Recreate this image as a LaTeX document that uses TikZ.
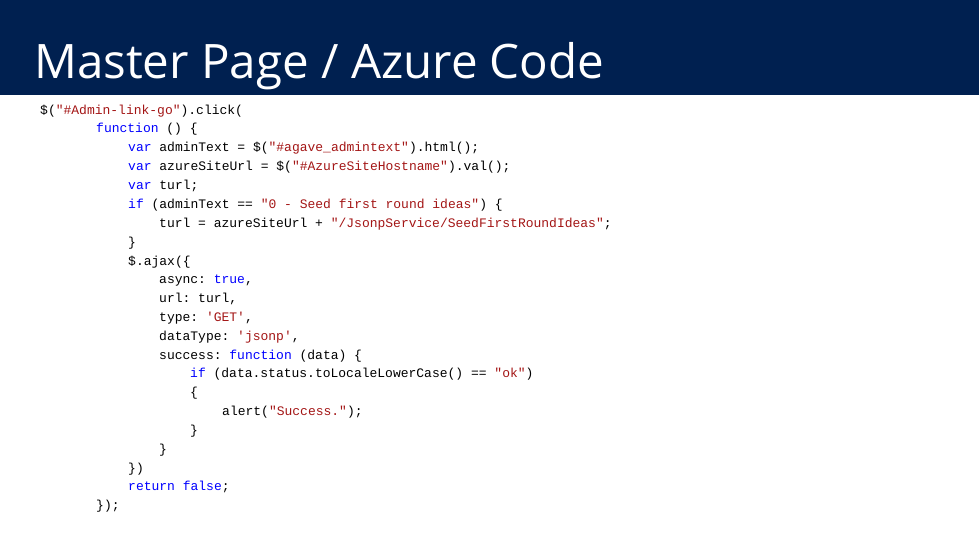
\documentclass[tikz,border=0pt]{standalone}
\usepackage{fontspec}
\setmainfont{Open Sans}
\setmonofont{Liberation Mono}
\definecolor{headblue}{HTML}{002050}
\definecolor{kwblue}{HTML}{0000FF}
\definecolor{strred}{HTML}{A31515}
\newcommand{\codekw}[1]{\textcolor{kwblue}{#1}}
\newcommand{\codestr}[1]{\textcolor{strred}{#1}}
\tikzset{
  codeline/.style={anchor=west,inner sep=0pt,font=\ttfamily\fontsize{13}{13}\selectfont},
}
\begin{document}
\begin{tikzpicture}[x=1pt,y=-1pt]
  \useasboundingbox (0,0) rectangle (979,551);
  \fill[headblue] (0,0) rectangle (979,95);
  \node[anchor=base west,inner sep=0pt,text=white,font=\fontsize{47.5}{48}\selectfont] (title) at (34,78) {Master Page / Azure Code};
  % code listing
  \node[codeline] (l1) at (40,111) {\$(\codestr{"\#Admin-link-go"}).click(};
  \node[codeline] (l2) at (96,129) {\codekw{function} () \{};
  \node[codeline] (l3) at (128,148) {\codekw{var} adminText = \$(\codestr{"\#agave\_admintext"}).html();};
  \node[codeline] (l4) at (128,167) {\codekw{var} azureSiteUrl = \$(\codestr{"\#AzureSiteHostname"}).val();};
  \node[codeline] (l5) at (128,186) {\codekw{var} turl;};
  \node[codeline] (l6) at (128,205) {\codekw{if} (adminText == \codestr{"0 - Seed first round ideas"}) \{};
  \node[codeline] (l7) at (159,224) {turl = azureSiteUrl + \codestr{"/JsonpService/SeedFirstRoundIdeas"};};
  \node[codeline] (l8) at (128,243) {\}};
  \node[codeline] (l9) at (128,262) {\$.ajax(\{};
  \node[codeline] (l10) at (159,281) {async: \codekw{true},};
  \node[codeline] (l11) at (159,299) {url: turl,};
  \node[codeline] (l12) at (159,318) {type: \codestr{'GET'},};
  \node[codeline] (l13) at (159,337) {dataType: \codestr{'jsonp'},};
  \node[codeline] (l14) at (159,356) {success: \codekw{function} (data) \{};
  \node[codeline] (l15) at (190,374) {\codekw{if} (data.status.toLocaleLowerCase() == \codestr{"ok"})};
  \node[codeline] (l16) at (190,393) {\{};
  \node[codeline] (l17) at (222,412) {alert(\codestr{"Success."});};
  \node[codeline] (l18) at (190,431) {\}};
  \node[codeline] (l19) at (159,450) {\}};
  \node[codeline] (l20) at (128,469) {\})};
  \node[codeline] (l21) at (128,487) {\codekw{return} \codekw{false};};
  \node[codeline] (l22) at (96,506) {\});};
\end{tikzpicture}
\end{document}
